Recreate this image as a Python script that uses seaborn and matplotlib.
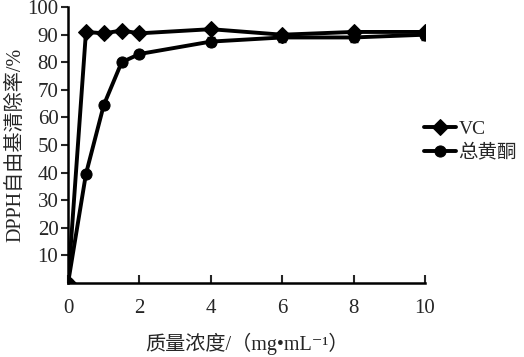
import matplotlib
matplotlib.use("Agg")
import matplotlib.pyplot as plt
import seaborn as sns
import pandas as pd
import numpy as np

conc = [0, 0.5, 1, 1.5, 2, 4, 6, 8, 10]
vc = [0, 91, 90.5, 91.5, 90.5, 92, 90, 91, 91]
vc_err = [0.3, 1.0, 1.2, 0.8, 0.8, 0.8, 0.8, 1.0, 1.0]
flav = [0, 39.5, 64.5, 80, 83, 87.5, 89, 89, 90]
flav_err = [0.3, 1.2, 1.0, 1.2, 0.8, 1.5, 1.5, 1.5, 1.8]
series_names = ["VC", "总黄酮"]
xticks = [0, 2, 4, 6, 8, 10]
yticks = [10, 20, 30, 40, 50, 60, 70, 80, 90, 100]

sns.set_style("white")
fam = ["Liberation Serif", "Noto Sans CJK SC", "DejaVu Sans"]
plt.rcParams["font.family"] = fam
plt.rcParams["font.size"] = 15

df = pd.DataFrame({
    "conc": conc * 2,
    "val": vc + flav,
    "series": [series_names[0]] * len(conc) + [series_names[1]] * len(conc),
})

fig = plt.figure(figsize=(5.24, 3.57), dpi=100)
ax = fig.add_axes([0.130, 0.208, 0.681, 0.772])

sns.lineplot(data=df, x="conc", y="val", hue="series", style="series",
             markers={"VC": "D", "总黄酮": "o"}, dashes=False,
             palette=["black", "black"], linewidth=2.8, markersize=8,
             markeredgecolor="black", ax=ax, legend=True)
ax.errorbar(conc, vc, yerr=vc_err, fmt="none", ecolor="black", capsize=3, elinewidth=1)
ax.errorbar(conc, flav, yerr=flav_err, fmt="none", ecolor="black", capsize=3, elinewidth=1)

ax.set_xlim(0, 10)
ax.set_ylim(0, 100)
ax.set_xticks(xticks)
ax.set_yticks(yticks)
ax.tick_params(axis="x", direction="in", length=6, width=1.5, pad=12, labelsize=15)
ax.tick_params(axis="y", direction="out", length=5, width=1.5, pad=2, labelsize=15)
ax.xaxis.set_ticks_position("bottom")
ax.yaxis.set_ticks_position("left")
for s in ["top", "right"]:
    ax.spines[s].set_visible(False)
for s in ["left", "bottom"]:
    ax.spines[s].set_linewidth(1.8)
    ax.spines[s].set_color("black")

ax.set_xlabel("质量浓度/（mg•mL⁻¹）", fontsize=14.5, labelpad=10)
ax.set_ylabel("DPPH自由基清除率/%", fontsize=14.5, labelpad=1)

handles, labels = ax.get_legend_handles_labels()
ax.legend(handles, labels, loc="center left", bbox_to_anchor=(0.81, 0.605),
          bbox_transform=fig.transFigure, frameon=False, handlelength=1.6,
          handletextpad=0.15, labelspacing=0.3, fontsize=14, borderaxespad=0,
          borderpad=0)

fig.savefig("out.png", dpi=100)
